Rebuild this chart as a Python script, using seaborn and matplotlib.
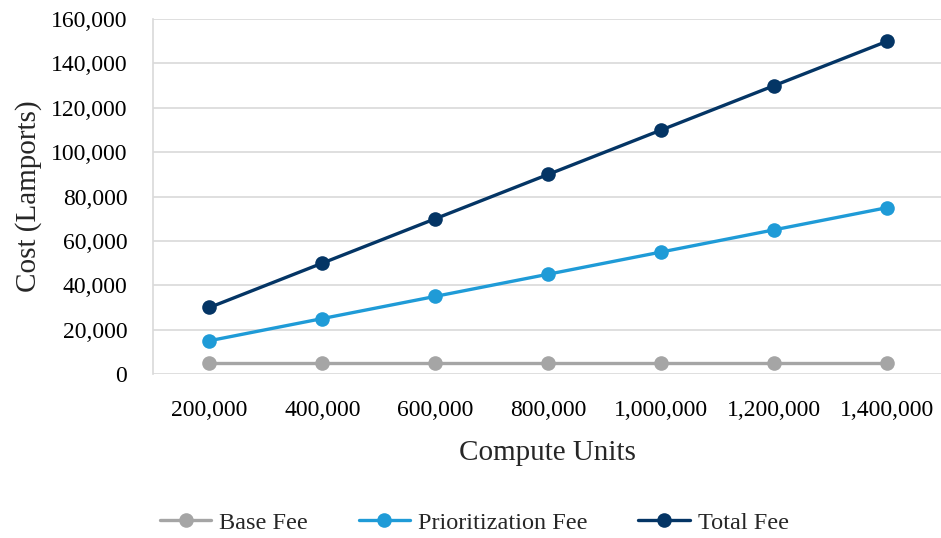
import matplotlib
matplotlib.use("Agg")
import matplotlib.pyplot as plt
import matplotlib.ticker as mticker
import pandas as pd
import seaborn as sns

# Fee components per transaction size
compute_units = [200000, 400000, 600000, 800000, 1000000, 1200000, 1400000]
base_fee = [5000, 5000, 5000, 5000, 5000, 5000, 5000]
prioritization_fee = [15000, 25000, 35000, 45000, 55000, 65000, 75000]
total_fee = [30000, 50000, 70000, 90000, 110000, 130000, 150000]

series_names = ["Base Fee", "Prioritization Fee", "Total Fee"]
series_colors = ["#A5A5A5", "#1F9BD7", "#043565"]

df = pd.concat([
    pd.DataFrame({"Compute Units": compute_units, "Cost": vals, "Series": name})
    for name, vals in zip(series_names, [base_fee, prioritization_fee, total_fee])
])

sns.set_theme(style="white")
plt.rcParams["font.family"] = ["Liberation Serif", "DejaVu Serif"]

fig = plt.figure(figsize=(9.41, 5.38), dpi=100)
ax = fig.add_axes([0.1626, 0.3048, 0.8374, 0.6599])

sns.lineplot(
    data=df, x="Compute Units", y="Cost", hue="Series",
    hue_order=series_names, palette=series_colors,
    marker="o", markersize=10.5, markeredgewidth=0, linewidth=2.4,
    ax=ax, legend=True, zorder=3,
)

ax.set_xlim(100000, 1495000)
ax.set_ylim(0, 160000)
ax.set_xticks(compute_units)
ax.set_yticks(range(0, 160001, 20000))
fmt = mticker.FuncFormatter(lambda v, p: f"{int(v):,}")
ax.xaxis.set_major_formatter(fmt)
ax.yaxis.set_major_formatter(fmt)

ax.grid(axis="y", color="#D9D9D9", linewidth=1.2, zorder=0)
ax.grid(axis="x", visible=False)
for side in ["top", "right", "bottom"]:
    ax.spines[side].set_visible(False)
ax.spines["left"].set_color("#D9D9D9")
ax.spines["left"].set_linewidth(1.2)

ax.tick_params(axis="both", length=0, labelsize=17, colors="#000000")
ax.tick_params(axis="x", pad=19)
ax.tick_params(axis="y", pad=18.5)

ax.set_xlabel("Compute Units", fontsize=21, labelpad=13.5)
ax.set_ylabel("Cost (Lamports)", fontsize=21, labelpad=6)

leg = ax.legend(
    loc="center", bbox_to_anchor=(0.504, 0.028), bbox_transform=fig.transFigure,
    ncol=3, frameon=False, fontsize=17.5, handlelength=2.1, columnspacing=2.1,
    handletextpad=0.33,
)

fig.savefig("out.png", dpi=100)
